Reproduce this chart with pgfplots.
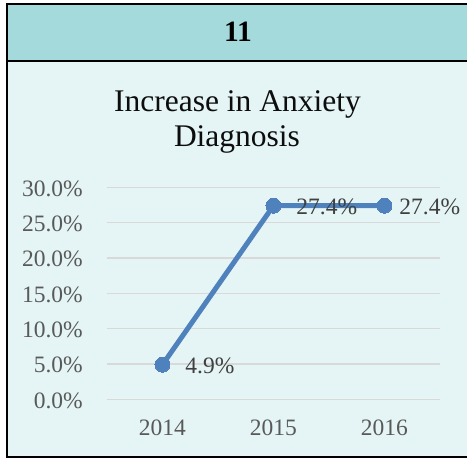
\documentclass[border=0pt]{standalone}
\usepackage{pgfplots}
\usepackage{pgfplotstable}
\pgfplotsset{compat=1.18}
\usepackage{fontspec}
\setmainfont{Liberation Serif}
\definecolor{hdr}{RGB}{164,218,219}
\definecolor{bodybg}{RGB}{229,245,245}
\definecolor{gridc}{RGB}{217,217,217}
\definecolor{linec}{RGB}{79,129,189}
\definecolor{tickc}{RGB}{89,89,89}
\definecolor{labc}{RGB}{64,64,64}
\definecolor{titlec}{RGB}{13,13,13}
\pgfplotstableread{
x y dx
0 4.9 23
1 27.4 23
2 27.4 15
}\datatable
\begin{document}
\begin{tikzpicture}
\useasboundingbox (0pt,0pt) rectangle (467pt,459pt);
\fill[bodybg] (6.7pt,1.8pt) rectangle (470pt,455pt);
\fill[hdr] (6.7pt,398.2pt) rectangle (470pt,455pt);
\draw[line width=1.8pt] (6.7pt,398.2pt) -- (470pt,398.2pt);
\draw[line width=1.8pt] (470pt,455pt) -- (6.7pt,455pt) -- (6.7pt,1.8pt) -- (470pt,1.8pt);
\node[anchor=base, inner sep=0pt, font=\fontsize{29.5}{34}\selectfont\bfseries] at (238pt,417pt) {11};
\node[anchor=base, inner sep=0pt, font=\fontsize{31.5}{36}\selectfont, text=titlec] at (237.5pt,347pt) {Increase in Anxiety};
\node[anchor=base, inner sep=0pt, font=\fontsize{31.5}{36}\selectfont, text=titlec] at (237pt,312pt) {Diagnosis};
\begin{axis}[
  scale only axis, width=333pt, height=212pt,
  at={(107pt,59.7pt)}, anchor=south west,
  xmin=-0.5, xmax=2.5, ymin=0, ymax=30,
  xtick={0,1,2}, xticklabels={2014,2015,2016},
  ytick={0,5,10,15,20,25,30},
  yticklabels={0.0\%,5.0\%,10.0\%,15.0\%,20.0\%,25.0\%,30.0\%},
  ymajorgrids, major grid style={draw=gridc, line width=1.5pt},
  axis line style={draw=none}, major tick length=0pt,
  tick label style={font=\fontsize{23.5}{28}\selectfont, text=tickc, inner sep=0pt},
  yticklabel style={anchor=base east, xshift=-24pt, yshift=-8.7pt},
  xticklabel style={anchor=base, yshift=-35.7pt},
  clip=false,
  /pgf/number format/assume math mode=true,
]
\addplot[linec, line width=5pt, line join=round,
  mark=*, mark size=7.5pt, mark options={fill=linec, draw=linec, line width=0pt},
  point meta=\thisrow{y},
  nodes near coords={\pgfmathprintnumber[fixed,fixed zerofill,precision=1]{\pgfplotspointmeta}\%},
  visualization depends on={\thisrow{dx}\as\dx},
  every node near coord/.append style={anchor=base west, xshift=\dx pt, yshift=-8.7pt, inner sep=0pt, font=\fontsize{23.5}{28}\selectfont, text=labc}]
  table[x=x,y=y] {\datatable};
\end{axis}
\end{tikzpicture}
\end{document}
